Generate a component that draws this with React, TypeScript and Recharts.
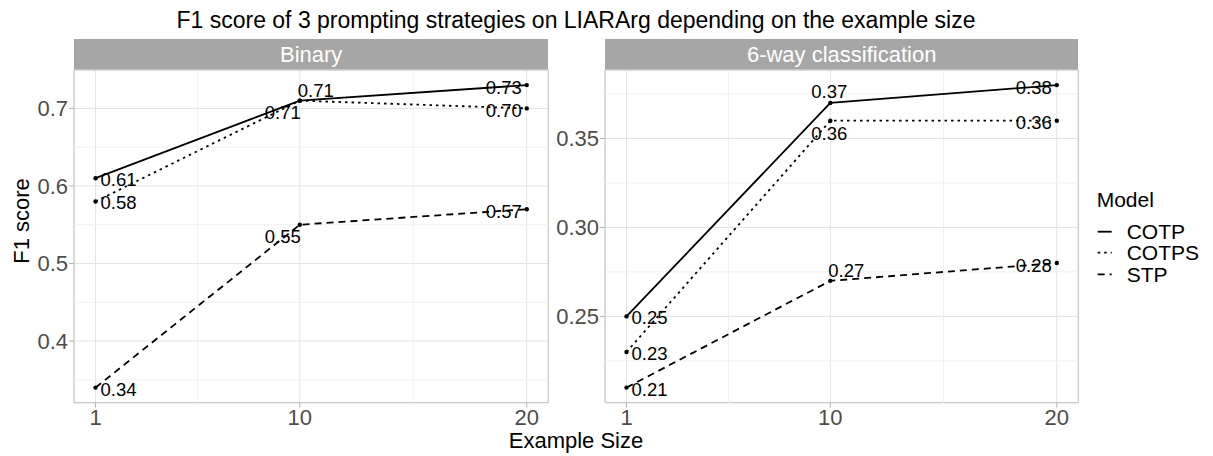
import React from 'react';
import { LineChart, Line, XAxis, YAxis, CartesianGrid, ReferenceLine, ReferenceArea } from 'recharts';

// data
const exampleSizes = [1, 10, 20];
const models = ['COTP', 'COTPS', 'STP'];

const binaryCOTP = [0.61, 0.71, 0.73];
const binaryCOTPS = [0.58, 0.71, 0.70];
const binarySTP = [0.34, 0.55, 0.57];

const sixWayCOTP = [0.25, 0.37, 0.38];
const sixWayCOTPS = [0.23, 0.36, 0.36];
const sixWaySTP = [0.21, 0.27, 0.28];

const xTicks = [1, 10, 20];
const xMinor = [5.5, 15];
const binaryTicks = [0.4, 0.5, 0.6, 0.7];
const binaryMinor = [0.35, 0.45, 0.55, 0.65];
const sixWayTicks = [0.25, 0.3, 0.35];
const sixWayMinor = [0.225, 0.275, 0.325, 0.375];

const buildRows = (cotp: number[], cotps: number[], stp: number[]) =>
  exampleSizes.map((size, i) => ({ size, COTP: cotp[i], COTPS: cotps[i], STP: stp[i] }));

const binaryRows = buildRows(binaryCOTP, binaryCOTPS, binarySTP);
const sixWayRows = buildRows(sixWayCOTP, sixWayCOTPS, sixWaySTP);

const FONT = '"Liberation Sans", Arial, Helvetica, sans-serif';
const dashes: Record<string, string | undefined> = { COTP: undefined, COTPS: '2.5 4', STP: '7 5' };

// where each text label sits next to its point
const offsets: Record<string, { dx: number; dy: number; anchor: 'start' | 'end' | 'middle' }> = {
  r: { dx: 5, dy: 1.5, anchor: 'start' },
  l: { dx: -5, dy: 2, anchor: 'end' },
  tr: { dx: -2, dy: -10.5, anchor: 'start' },
  bl: { dx: 1, dy: 12, anchor: 'end' },
  t: { dx: -1, dy: -11, anchor: 'middle' },
  b: { dx: -1, dy: 13, anchor: 'middle' },
};

const binaryPlaces: Record<string, string[]> = {
  COTP: ['r', 'tr', 'l'],
  COTPS: ['r', 'bl', 'l'],
  STP: ['r', 'bl', 'l'],
};
const sixWayPlaces: Record<string, string[]> = {
  COTP: ['r', 't', 'l'],
  COTPS: ['r', 'b', 'l'],
  STP: ['r', 'tr', 'l'],
};

const makeLabel = (places: string[]) => (p: any) => {
  const o = offsets[places[p.index]];
  return (
    <text key={p.index} x={p.x + o.dx} y={p.y + o.dy} textAnchor={o.anchor} dominantBaseline="central"
      fontSize={18.5} fill="#000" fontFamily={FONT}>
      {Number(p.value).toFixed(2)}
    </text>
  );
};

interface PanelProps {
  left: number; width: number; marginLeft: number; marginRight: number; title: string;
  rows: any[]; yDomain: [number, number]; yTicks: number[]; yMinor: number[]; digits: number;
  places: Record<string, string[]>;
}

const Y_AXIS_W = 60;
const TOP = 70;
const BOTTOM = 23.3;

function Panel({ left, width, marginLeft, marginRight, title, rows, yDomain, yTicks, yMinor, digits, places }: PanelProps) {
  const plotLeft = marginLeft + Y_AXIS_W;
  const plotWidth = width - plotLeft - marginRight;
  return (
    <div style={{ position: 'absolute', left, top: 0, width, height: 456 }}>
      <div style={{ position: 'absolute', left: plotLeft, top: 39, width: plotWidth, height: 31, background: '#a6a6a6',
        color: '#fff', fontSize: 22, lineHeight: '31px', textAlign: 'center', fontFamily: FONT }}>{title}</div>
      <LineChart width={width} height={456} data={rows} margin={{ top: TOP, right: marginRight, bottom: BOTTOM, left: marginLeft }}>
        <CartesianGrid stroke="#e3e3e3" strokeWidth={1} />
        {xMinor.map(v => <ReferenceLine key={'x' + v} x={v} stroke="#f0f0f0" strokeWidth={1} />)}
        {yMinor.map(v => <ReferenceLine key={'y' + v} y={v} stroke="#f0f0f0" strokeWidth={1} />)}
        <XAxis dataKey="size" type="number" domain={[0.05, 20.95]} ticks={xTicks} interval={0} allowDataOverflow
          axisLine={false} tickLine={{ stroke: '#b3b3b3' }} tickSize={5} tickMargin={2}
          tick={{ fontSize: 22, fill: '#4d4d4d', fontFamily: FONT }} />
        <YAxis type="number" width={Y_AXIS_W} domain={yDomain} ticks={yTicks} interval={0} allowDataOverflow
          axisLine={false} tickLine={{ stroke: '#b3b3b3' }} tickSize={5} tickMargin={1}
          tickFormatter={(v: number) => v.toFixed(digits)}
          tick={{ fontSize: 22, fill: '#4d4d4d', fontFamily: FONT }} />
        <ReferenceArea x1={0.05} x2={20.95} y1={yDomain[0]} y2={yDomain[1]} fill="none" stroke="#c4c4c4" strokeWidth={1} />
        {models.map(m => (
          <Line key={m} dataKey={m} type="linear" stroke="#000" strokeWidth={1.8} strokeDasharray={dashes[m]}
            dot={{ r: 2.2, fill: '#000', stroke: 'none' }} activeDot={false} isAnimationActive={false}
            label={makeLabel(places[m])} />
        ))}
      </LineChart>
    </div>
  );
}

const legendRows = [231.7, 252.7, 274.3];

export default function App() {
  return (
    <div style={{ position: 'absolute', left: 0, top: 0, width: 1213, height: 456, background: '#fff', fontFamily: FONT }}>
      <Panel left={0} width={600} marginLeft={14} marginRight={51.7} title="Binary" rows={binaryRows}
        yDomain={[0.3205, 0.7495]} yTicks={binaryTicks} yMinor={binaryMinor} digits={1} places={binaryPlaces} />
      <Panel left={540} width={560} marginLeft={5} marginRight={21.7} title="6-way classification" rows={sixWayRows}
        yDomain={[0.2015, 0.3885]} yTicks={sixWayTicks} yMinor={sixWayMinor} digits={2} places={sixWayPlaces} />
      <svg width={1213} height={456} style={{ position: 'absolute', left: 0, top: 0, pointerEvents: 'none' }} fontFamily={FONT}>
        <text x={576} y={28.3} textAnchor="middle" fontSize={23} fill="#000">
          F1 score of 3 prompting strategies on LIARArg depending on the example size
        </text>
        <text x={576} y={448} textAnchor="middle" fontSize={22} fill="#000">Example Size</text>
        <text transform="translate(28.5,221) rotate(-90)" textAnchor="middle" fontSize={22} fill="#000">F1 score</text>
        <text x={1096.7} y={206.7} fontSize={21} fill="#000">Model</text>
        {models.map((m, i) => (
          <g key={m}>
            <line x1={1097.7} x2={1111.7} y1={legendRows[i]} y2={legendRows[i]} stroke="#000" strokeWidth={1.8}
              strokeDasharray={dashes[m]} />
            <text x={1126.7} y={legendRows[i]} dominantBaseline="central" fontSize={21} fill="#000">{m}</text>
          </g>
        ))}
      </svg>
    </div>
  );
}
